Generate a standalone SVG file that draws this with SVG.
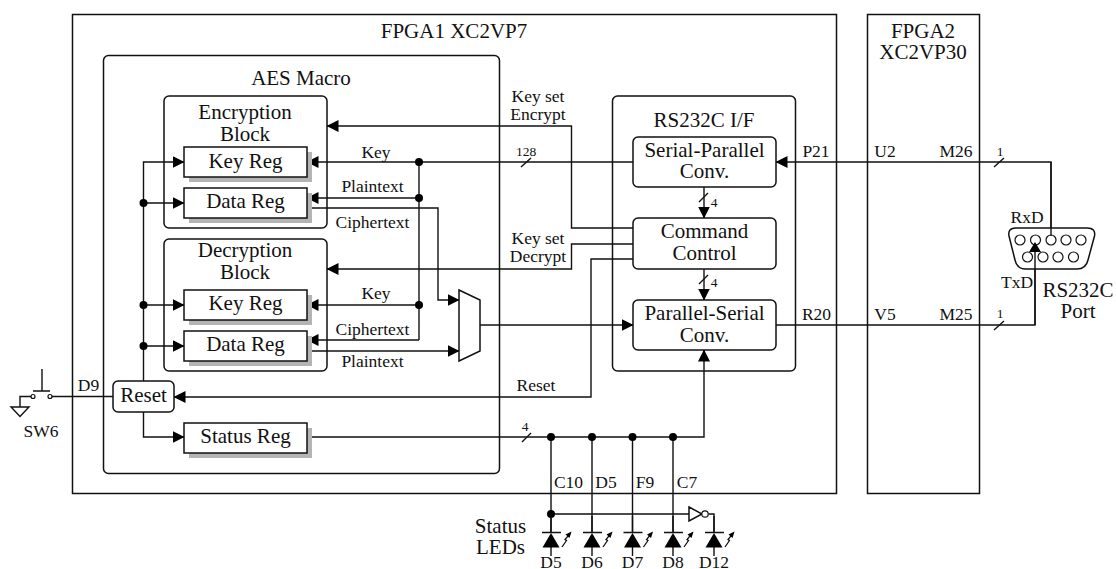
<svg xmlns="http://www.w3.org/2000/svg" width="1116" height="569" viewBox="0 0 1116 569">
<style>
text{font-family:"Liberation Serif","Times New Roman",serif;fill:#111;text-anchor:middle}
.b{font-size:21px}.m{font-size:17.5px}.s{font-size:13.5px}
.box{fill:#fff;stroke:#111;stroke-width:1.5}
.frame{fill:none;stroke:#111;stroke-width:1.5}
.shadow{fill:#b4b4b4}
.w{fill:none;stroke:#111;stroke-width:1.4}
.bolt{fill:none;stroke:#111;stroke-width:1.3}
.tip{fill:#000}
.pin{fill:#fff;stroke:#111;stroke-width:1.2}
</style>
<defs>
<marker id="ah" markerUnits="userSpaceOnUse" markerWidth="12" markerHeight="13" refX="11.5" refY="6.5" orient="auto"><path d="M0 .5L12 6.500L0 12.500Z" fill="#000"/></marker>
<g id="led"><path class="w" d="M0 532V516M0 547V556M-9 532.500H10"/><path class="tip" d="M0 533L8.500 547.500H-8.500Z"/><path class="bolt" d="M11 547L15.500 540.500L14 539.500L19 533.500"/><path class="tip" d="M20.500 531.500L14.500 534.500L18.500 538Z"/></g>
</defs>
<rect width="1116" height="569" fill="#fff"/>
<g id="fpga1"><rect class="frame" x="72.5" y="14.5" width="764" height="479"/><text class="b" x="454" y="38">FPGA1 XC2VP7</text></g>
<g id="fpga2"><rect class="frame" x="867.5" y="14.5" width="112" height="479"/><text class="b" x="923" y="38">FPGA2</text><text class="b" x="923" y="59">XC2VP30</text></g>
<g id="aes"><rect class="frame" x="103.5" y="55.5" width="396" height="418" rx="5"/><text class="b" x="301" y="85">AES Macro</text></g>
<g id="enc"><rect class="frame" x="164" y="96" width="163" height="132" rx="5"/><text class="b" x="245" y="119">Encryption</text><text class="b" x="245" y="141">Block</text></g>
<g id="dec"><rect class="frame" x="164" y="239" width="163" height="132" rx="5"/><text class="b" x="245" y="257">Decryption</text><text class="b" x="245" y="279">Block</text></g>
<g id="rsif"><rect class="frame" x="612.5" y="96" width="183" height="275" rx="5"/><text class="b" x="704" y="127">RS232C I/F</text></g>
<g id="connectors">
<path class="w" marker-end="url(#ah)" d="M143.5 381V162H184"/>
<path class="w" marker-end="url(#ah)" d="M143.5 203H184"/>
<path class="w" marker-end="url(#ah)" d="M143.5 305H184"/>
<path class="w" marker-end="url(#ah)" d="M143.5 346H184"/>
<path class="w" marker-end="url(#ah)" d="M143.5 412V437H184"/>
<path class="w" marker-end="url(#ah)" d="M633 162H307"/>
<path class="w" d="M419 162V340"/>
<path class="w" marker-end="url(#ah)" d="M419 198H307"/>
<path class="w" marker-end="url(#ah)" d="M419 305H307"/>
<path class="w" marker-end="url(#ah)" d="M419 340H307"/>
<path class="w" marker-end="url(#ah)" d="M307 208H438V300H459"/>
<path class="w" marker-end="url(#ah)" d="M307 351H459"/>
<path class="w" marker-end="url(#ah)" d="M480 325H633"/>
<path class="w" marker-end="url(#ah)" d="M633 228H571.5V126H327"/>
<path class="w" marker-end="url(#ah)" d="M633 244H571.5V269H327"/>
<path class="w" marker-end="url(#ah)" d="M633 259H591V397H174"/>
<path class="w" marker-end="url(#ah)" d="M704 187V218"/>
<path class="w" marker-end="url(#ah)" d="M704 269V300"/>
<path class="w" marker-end="url(#ah)" d="M1051 236V162H776"/>
<path class="w" d="M776 325H1035V250"/>
<path class="w" marker-end="url(#ah)" d="M307 437H704V350"/>
<path class="w" d="M551 437V532M592 437V532M632.500 437V532M673 437V532"/>
<path class="w" d="M551 514H689M708.500 514H714V532"/>
<path class="w" d="M50 396.500H113M33 396.500H20V407"/>
<path class="w" d="M521 167L531 158M522 442L531 433M994 167L1004 158M994 330L1004 321M699 202L708 193M699 284L708 275"/>
<g class="tip"><circle cx="143.500" cy="203" r="4"/><circle cx="143.500" cy="305" r="4"/><circle cx="143.500" cy="346" r="4"/><circle cx="419" cy="162" r="4"/><circle cx="419" cy="198" r="4"/><circle cx="419" cy="305" r="4"/><circle cx="551" cy="437" r="4"/><circle cx="592" cy="437" r="4"/><circle cx="632.500" cy="437" r="4"/><circle cx="673" cy="437" r="4"/><circle cx="551" cy="514" r="4"/></g>
</g>
<g id="keyreg-enc"><rect class="shadow" x="189" y="152" width="123" height="30"/><rect class="box" x="184" y="147" width="123" height="30"/><text class="b" x="245.500" y="168">Key Reg</text></g>
<g id="datareg-enc"><rect class="shadow" x="189" y="193" width="123" height="30"/><rect class="box" x="184" y="188" width="123" height="30"/><text class="b" x="245.500" y="208">Data Reg</text></g>
<g id="keyreg-dec"><rect class="shadow" x="189" y="295" width="123" height="30"/><rect class="box" x="184" y="290" width="123" height="30"/><text class="b" x="245.500" y="310">Key Reg</text></g>
<g id="datareg-dec"><rect class="shadow" x="189" y="336" width="123" height="30"/><rect class="box" x="184" y="331" width="123" height="30"/><text class="b" x="245.500" y="351">Data Reg</text></g>
<g id="statusreg"><rect class="shadow" x="189" y="428" width="123" height="30"/><rect class="box" x="184" y="423" width="123" height="30"/><text class="b" x="245.500" y="443">Status Reg</text></g>
<g id="reset"><rect class="box" x="113" y="381" width="61" height="31" rx="5"/><text class="b" x="143.500" y="402">Reset</text></g>
<g id="mux"><path class="box" d="M459 290L480 300V351L459 361Z"/></g>
<g id="spconv"><rect class="box" x="633" y="137" width="143" height="50" rx="5"/><text class="b" x="704.500" y="157">Serial-Parallel</text><text class="b" x="704.500" y="178">Conv.</text></g>
<g id="cmd"><rect class="box" x="633" y="218" width="143" height="51" rx="5"/><text class="b" x="704.500" y="238">Command</text><text class="b" x="704.500" y="260">Control</text></g>
<g id="psconv"><rect class="box" x="633" y="300" width="143" height="50" rx="5"/><text class="b" x="704.500" y="320">Parallel-Serial</text><text class="b" x="704.500" y="342">Conv.</text></g>
<g id="sw6"><path class="w" d="M33 391H50M42 391V369"/><circle class="pin" cx="33" cy="396.500" r="2"/><circle class="pin" cx="50" cy="396.500" r="2"/><path class="w" d="M11 407H29L20 416.500Z"/><text class="m" x="41" y="437">SW6</text></g>
<g id="port"><path class="box" d="M1016 228H1087Q1096 228 1094.500 236L1088 260Q1086 269 1077 269H1026Q1017 269 1015 260L1009 236Q1007.500 228 1016 228Z"/>
<circle class="pin" cx="1020" cy="240" r="5"/><circle class="pin" cx="1035.500" cy="240" r="5"/><circle class="pin" cx="1051" cy="240" r="5"/><circle class="pin" cx="1066" cy="240" r="5"/><circle class="pin" cx="1081" cy="240" r="5"/><circle class="pin" cx="1027.500" cy="257" r="5"/><circle class="pin" cx="1043" cy="257" r="5"/><circle class="pin" cx="1058" cy="257" r="5"/><circle class="pin" cx="1073.500" cy="257" r="5"/>
<path class="w" d="M1051 162V236M1035 325V250"/><path class="tip" d="M1035 242L1041 252H1029Z"/>
<text class="b" x="1078" y="297">RS232C</text><text class="b" x="1078" y="318">Port</text></g>
<g id="inverter"><path class="box" d="M689 507L702 514L689 521Z"/><circle class="pin" cx="705" cy="514" r="3.200"/></g>
<g id="leds"><use href="#led" x="551"/><use href="#led" x="592"/><use href="#led" x="632.500"/><use href="#led" x="673"/><use href="#led" x="714"/>
<text class="m" x="551" y="568">D5</text><text class="m" x="592" y="568">D6</text><text class="m" x="632.500" y="568">D7</text><text class="m" x="673" y="568">D8</text><text class="m" x="714" y="568">D12</text>
<text class="b" x="500.500" y="533">Status</text><text class="b" x="500.500" y="554">LEDs</text></g>
<g id="labels">
<text class="m" x="376" y="158">Key</text><text class="m" x="372.500" y="192">Plaintext</text><text class="m" x="372.500" y="228">Ciphertext</text>
<text class="m" x="376" y="299">Key</text><text class="m" x="372.500" y="335">Ciphertext</text><text class="m" x="372.500" y="367">Plaintext</text>
<text class="m" x="538" y="102">Key set</text><text class="m" x="538" y="120">Encrypt</text><text class="m" x="538" y="244">Key set</text><text class="m" x="538" y="262">Decrypt</text>
<text class="m" x="536" y="391">Reset</text><text class="m" x="88.500" y="391">D9</text>
<text class="m" x="816" y="157">P21</text><text class="m" x="885" y="157">U2</text><text class="m" x="956" y="157">M26</text>
<text class="m" x="816.500" y="320">R20</text><text class="m" x="885" y="320">V5</text><text class="m" x="956" y="320">M25</text>
<text class="m" x="1027" y="223">RxD</text><text class="m" x="1017" y="288">TxD</text>
<text class="m" x="568.500" y="488">C10</text><text class="m" x="606" y="488">D5</text><text class="m" x="645" y="488">F9</text><text class="m" x="687" y="488">C7</text>
<text class="s" x="526" y="156">128</text><text class="s" x="525" y="431">4</text><text class="s" x="1000" y="156">1</text><text class="s" x="1000" y="318">1</text><text class="s" x="714" y="207">4</text><text class="s" x="714" y="287">4</text>
</g>
</svg>
